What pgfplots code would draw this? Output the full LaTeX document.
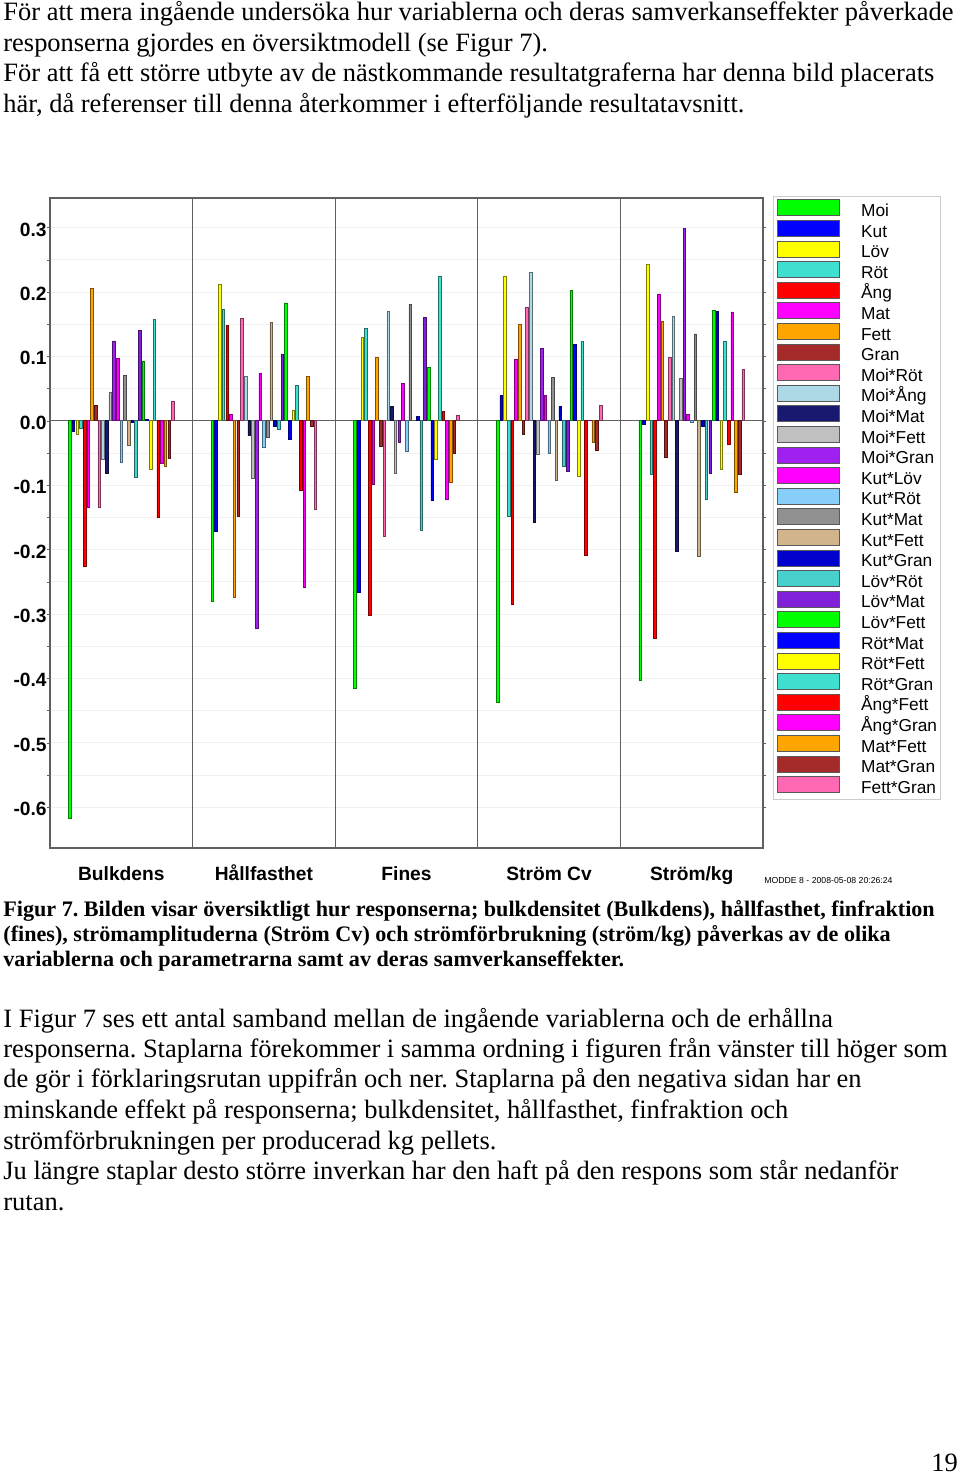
\documentclass[border=0pt]{standalone}
\usepackage{fontspec}
\setmainfont{Liberation Serif}
\setsansfont{Liberation Sans}
\usepackage{pgfplots}
\pgfplotsset{compat=1.18}
\frenchspacing

\definecolor{cMoi}{HTML}{00FF00}
\definecolor{cKut}{HTML}{0000FF}
\definecolor{cLov}{HTML}{FFFF00}
\definecolor{cRot}{HTML}{40E0D0}
\definecolor{cAng}{HTML}{FF0000}
\definecolor{cMat}{HTML}{FF00FF}
\definecolor{cFett}{HTML}{FFA500}
\definecolor{cGran}{HTML}{A52A2A}
\definecolor{cMoiRot}{HTML}{FF69B4}
\definecolor{cMoiAng}{HTML}{ADD8E6}
\definecolor{cMoiMat}{HTML}{191970}
\definecolor{cMoiFett}{HTML}{C0C0C0}
\definecolor{cMoiGran}{HTML}{A020F0}
\definecolor{cKutLov}{HTML}{FF00FF}
\definecolor{cKutRot}{HTML}{87CEFA}
\definecolor{cKutMat}{HTML}{909090}
\definecolor{cKutFett}{HTML}{D2B48C}
\definecolor{cKutGran}{HTML}{0000CD}
\definecolor{cLovRot}{HTML}{48D1CC}
\definecolor{cLovMat}{HTML}{8020D8}
\definecolor{cLovFett}{HTML}{00FF00}
\definecolor{cRotMat}{HTML}{0000FF}
\definecolor{cRotFett}{HTML}{FFFF00}
\definecolor{cRotGran}{HTML}{40E0D0}
\definecolor{cAngFett}{HTML}{FF0000}
\definecolor{cAngGran}{HTML}{FF00FF}
\definecolor{cMatFett}{HTML}{FFA500}
\definecolor{cMatGran}{HTML}{A52A2A}
\definecolor{cFettGran}{HTML}{FF69B4}

\pgfplotsset{bs/.style={fill=#1, draw=#1!50!black, line width=0.3pt}}

\begin{document}
\begin{tikzpicture}
\path[use as bounding box, fill=white] (0pt,0pt) rectangle (480pt,-737.5pt);

\begin{axis}[
    at={(25pt,-424pt)}, anchor=south west,
    width=356.5pt, height=325pt, scale only axis,
    xmin=0, xmax=5,
    ymin=-0.6635, ymax=0.346,
    ybar=0.54pt, bar width=1.3pt,
    axis line style={gray!75!black, line width=0.6pt},
    xtick={0.5,1.5,2.5,3.5,4.5},
    xticklabels={Bulkdens,Hållfasthet,Fines,Ström Cv,Ström/kg},
    x tick style={draw=none},
    xticklabel style={yshift=-4.2pt, text height=7.2pt, text depth=2pt},
    extra x ticks={1,2,3,4},
    extra x tick labels={},
    extra x tick style={xmajorgrids=true, major grid style={gray!75!black, line width=0.6pt}, major tick length=0pt},
    ytick={-0.6,-0.5,...,0.3},
    minor y tick num=1,
    ymajorgrids, yminorgrids,
    major grid style={gray!12},
    minor grid style={gray!12},
    extra y ticks={0},
    extra y tick labels={},
    extra y tick style={ymajorgrids=true, major grid style={gray!75!black, line width=0.6pt}},
    y tick style={gray!75!black},
    tick align=outside,
    major tick length=1.5pt, minor tick length=1.5pt,
    yticklabel style={inner sep=0pt, yshift=-1pt, /pgf/number format/fixed, /pgf/number format/precision=1, /pgf/number format/fixed zerofill},
    tick label style={font=\sffamily\bfseries\fontsize{9.6}{11}\selectfont},
    /pgf/number format/assume math mode=true,
    every axis plot post/.append style={legend image code/.code={\draw[##1, draw=gray!70!black, line width=0.3pt] (0pt,0.4pt) rectangle (31pt,8.35pt);}},
    legend style={at={(1,1)}, anchor=north west, xshift=5pt, yshift=1pt,
        draw=gray!40, line width=0.5pt, inner sep=1.5pt, row sep=0pt, column sep=11pt,
        font=\sffamily\fontsize{8.65}{10}\selectfont,
        nodes={inner sep=0pt, text height=6.5pt, text depth=1.8pt},
        cells={anchor=base west}},
]
% order: Bulkdens, Hållfasthet, Fines, Ström Cv, Ström/kg
\addplot[bs=cMoi] coordinates {(0.5,-0.618) (1.5,-0.281) (2.5,-0.415) (3.5,-0.437) (4.5,-0.403)};
\addlegendentry{Moi}
\addplot[bs=cKut] coordinates {(0.5,-0.017) (1.5,-0.172) (2.5,-0.266) (3.5,0.039) (4.5,-0.006)};
\addlegendentry{Kut}
\addplot[bs=cLov] coordinates {(0.5,-0.021) (1.5,0.212) (2.5,0.130) (3.5,0.224) (4.5,0.243)};
\addlegendentry{Löv}
\addplot[bs=cRot] coordinates {(0.5,-0.012) (1.5,0.173) (2.5,0.144) (3.5,-0.149) (4.5,-0.083)};
\addlegendentry{Röt}
\addplot[bs=cAng] coordinates {(0.5,-0.226) (1.5,0.148) (2.5,-0.302) (3.5,-0.285) (4.5,-0.338)};
\addlegendentry{Ång}
\addplot[bs=cMat] coordinates {(0.5,-0.135) (1.5,0.010) (2.5,-0.098) (3.5,0.096) (4.5,0.197)};
\addlegendentry{Mat}
\addplot[bs=cFett] coordinates {(0.5,0.205) (1.5,-0.274) (2.5,0.098) (3.5,0.150) (4.5,0.154)};
\addlegendentry{Fett}
\addplot[bs=cGran] coordinates {(0.5,0.024) (1.5,-0.148) (2.5,-0.040) (3.5,-0.021) (4.5,-0.056)};
\addlegendentry{Gran}
\addplot[bs=cMoiRot] coordinates {(0.5,-0.134) (1.5,0.159) (2.5,-0.179) (3.5,0.176) (4.5,0.098)};
\addlegendentry{Moi*Röt}
\addplot[bs=cMoiAng] coordinates {(0.5,-0.060) (1.5,0.069) (2.5,0.170) (3.5,0.230) (4.5,0.163)};
\addlegendentry{Moi*Ång}
\addplot[bs=cMoiMat] coordinates {(0.5,-0.081) (1.5,-0.023) (2.5,0.022) (3.5,-0.158) (4.5,-0.203)};
\addlegendentry{Moi*Mat}
\addplot[bs=cMoiFett] coordinates {(0.5,0.045) (1.5,-0.090) (2.5,-0.082) (3.5,-0.052) (4.5,0.066)};
\addlegendentry{Moi*Fett}
\addplot[bs=cMoiGran] coordinates {(0.5,0.124) (1.5,-0.322) (2.5,-0.033) (3.5,0.113) (4.5,0.299)};
\addlegendentry{Moi*Gran}
\addplot[bs=cKutLov] coordinates {(0.5,0.097) (1.5,0.074) (2.5,0.058) (3.5,0.039) (4.5,0.010)};
\addlegendentry{Kut*Löv}
\addplot[bs=cKutRot] coordinates {(0.5,-0.065) (1.5,-0.041) (2.5,-0.047) (3.5,-0.051) (4.5,-0.002)};
\addlegendentry{Kut*Röt}
\addplot[bs=cKutMat] coordinates {(0.5,0.071) (1.5,-0.026) (2.5,0.181) (3.5,0.067) (4.5,0.135)};
\addlegendentry{Kut*Mat}
\addplot[bs=cKutFett] coordinates {(0.5,-0.038) (1.5,0.153) (2.5,0.001) (3.5,-0.092) (4.5,-0.210)};
\addlegendentry{Kut*Fett}
\addplot[bs=cKutGran] coordinates {(0.5,-0.002) (1.5,-0.009) (2.5,0.007) (3.5,0.022) (4.5,-0.009)};
\addlegendentry{Kut*Gran}
\addplot[bs=cLovRot] coordinates {(0.5,-0.088) (1.5,-0.013) (2.5,-0.170) (3.5,-0.070) (4.5,-0.122)};
\addlegendentry{Löv*Röt}
\addplot[bs=cLovMat] coordinates {(0.5,0.140) (1.5,0.104) (2.5,0.161) (3.5,-0.078) (4.5,-0.082)};
\addlegendentry{Löv*Mat}
\addplot[bs=cLovFett] coordinates {(0.5,0.093) (1.5,0.183) (2.5,0.083) (3.5,0.203) (4.5,0.171)};
\addlegendentry{Löv*Fett}
\addplot[bs=cRotMat] coordinates {(0.5,0.002) (1.5,-0.028) (2.5,-0.124) (3.5,0.119) (4.5,0.170)};
\addlegendentry{Röt*Mat}
\addplot[bs=cRotFett] coordinates {(0.5,-0.075) (1.5,0.017) (2.5,-0.060) (3.5,-0.087) (4.5,-0.076)};
\addlegendentry{Röt*Fett}
\addplot[bs=cRotGran] coordinates {(0.5,0.157) (1.5,0.055) (2.5,0.224) (3.5,0.123) (4.5,0.124)};
\addlegendentry{Röt*Gran}
\addplot[bs=cAngFett] coordinates {(0.5,-0.150) (1.5,-0.108) (2.5,0.014) (3.5,-0.209) (4.5,-0.037)};
\addlegendentry{Ång*Fett}
\addplot[bs=cAngGran] coordinates {(0.5,-0.066) (1.5,-0.258) (2.5,-0.122) (3.5,0.001) (4.5,0.169)};
\addlegendentry{Ång*Gran}
\addplot[bs=cMatFett] coordinates {(0.5,-0.070) (1.5,0.069) (2.5,-0.095) (3.5,-0.033) (4.5,-0.111)};
\addlegendentry{Mat*Fett}
\addplot[bs=cMatGran] coordinates {(0.5,-0.059) (1.5,-0.009) (2.5,-0.050) (3.5,-0.046) (4.5,-0.083)};
\addlegendentry{Mat*Gran}
\addplot[bs=cFettGran] coordinates {(0.5,0.030) (1.5,-0.138) (2.5,0.008) (3.5,0.024) (4.5,0.080)};
\addlegendentry{Fett*Gran}
\end{axis}

% page text, in pixel units of the scanned page
\begin{scope}[x=0.5pt, y=-0.5pt, every node/.style={anchor=base west, inner sep=0pt}]
  \begin{scope}[font=\fontsize{13.23}{15.25}\selectfont]
    \node at (3,21) {För att mera ingående undersöka hur variablerna och deras samverkanseffekter påverkade};
    \node at (3,52) {responserna gjordes en översiktmodell (se Figur 7).};
    \node at (3,82) {För att få ett större utbyte av de nästkommande resultatgraferna har denna bild placerats};
    \node at (3,113) {här, då referenser till denna återkommer i efterföljande resultatavsnitt.};
    \node at (3,1027) {I Figur 7 ses ett antal samband mellan de ingående variablerna och de erhållna};
    \node at (3,1057) {responserna. Staplarna förekommer i samma ordning i figuren från vänster till höger som};
    \node at (3,1087) {de gör i förklaringsrutan uppifrån och ner. Staplarna på den negativa sidan har en};
    \node at (3,1118) {minskande effekt på responserna; bulkdensitet, hållfasthet, finfraktion och};
    \node at (3,1149) {strömförbrukningen per producerad kg pellets.};
    \node at (3,1179) {Ju längre staplar desto större inverkan har den haft på den respons som står nedanför};
    \node at (3,1210) {rutan.};
    \node at (931,1471) {19};
  \end{scope}
  \begin{scope}[font=\bfseries\fontsize{11.07}{12.5}\selectfont]
    \node at (3,916) {Figur 7. Bilden visar översiktligt hur responserna; bulkdensitet (Bulkdens), hållfasthet, finfraktion};
    \node at (3,941) {(fines), strömamplituderna (Ström Cv) och strömförbrukning (ström/kg) påverkas av de olika};
    \node at (3,966) {variablerna och parametrarna samt av deras samverkanseffekter.};
  \end{scope}
  \node[font=\sffamily\fontsize{4.35}{5}\selectfont] at (764,883) {MODDE 8 - 2008-05-08 20:26:24};
\end{scope}
\end{tikzpicture}
\end{document}
